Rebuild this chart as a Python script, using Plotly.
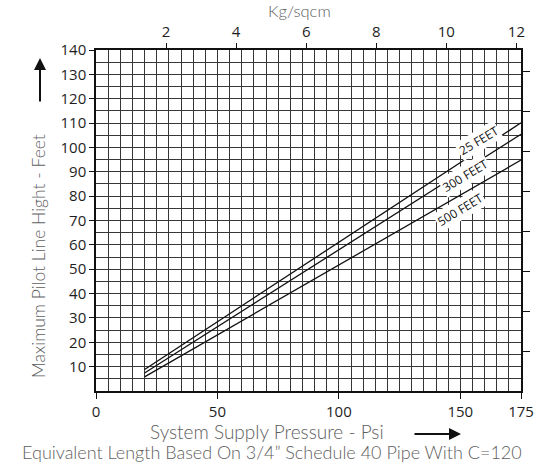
import plotly.graph_objects as go

# Data
pressure_psi = [20, 175]
h_25ft = [8.8, 110.1]
h_300ft = [7.4, 105.4]
h_500ft = [5.8, 94.8]

x_ticks = [0, 50, 100, 150, 175]
y_ticks = [10, 20, 30, 40, 50, 60, 70, 80, 90, 100, 110, 120, 130, 140]
kg_ticks = [2, 4, 6, 8, 10, 12]
m_ticks = [5, 10, 15, 20, 25, 30, 35, 40]

series = [("25 FEET", h_25ft), ("300 FEET", h_300ft), ("500 FEET", h_500ft)]

W, H = 539, 467
ML, MR, MT, MB = 96, 18, 50, 76
PW, PH = W - ML - MR, H - MT - MB

def px(xp):
    return (xp - ML) / PW

def py(yp):
    return (H - MB - yp) / PH

GRID = "#363636"
TXT = "#1e1e1e"
GRAY = "#5e5e5e"
NUMFONT = "Open Sans"
TITLEFONT = "Lato"

fig = go.Figure()
for name, vals in series:
    fig.add_trace(go.Scatter(x=pressure_psi, y=vals, mode="lines",
                             line=dict(color="#111111", width=1.3),
                             name=name, showlegend=False, hoverinfo="skip"))

# invisible traces to activate secondary axes
fig.add_trace(go.Scatter(x=[0], y=[0], xaxis="x2", yaxis="y", mode="markers",
                         marker=dict(opacity=0), showlegend=False, hoverinfo="skip"))
fig.add_trace(go.Scatter(x=[0], y=[0], xaxis="x", yaxis="y2", mode="markers",
                         marker=dict(opacity=0), showlegend=False, hoverinfo="skip"))

fig.update_layout(
    width=W, height=H,
    margin=dict(l=ML, r=MR, t=MT, b=MB, autoexpand=False),
    paper_bgcolor="white", plot_bgcolor="white",
    font=dict(family=NUMFONT, color=TXT, size=15),
    xaxis=dict(range=[0, 175], tickvals=x_ticks, ticks="outside", ticklen=6,
               tickcolor="#111", tickwidth=1,
               showgrid=True, gridcolor=GRID, gridwidth=1,
               minor=dict(dtick=5, tick0=0, showgrid=True, gridcolor=GRID, gridwidth=1),
               showline=True, linecolor="#111", linewidth=1.5, mirror=True,
               zeroline=False, tickfont=dict(size=15, color=TXT, family=NUMFONT)),
    yaxis=dict(range=[0, 140], tickvals=y_ticks, ticks="outside", ticklen=5,
               tickcolor="#111", tickwidth=1,
               showgrid=True, gridcolor=GRID, gridwidth=1,
               minor=dict(dtick=5, tick0=0, showgrid=True, gridcolor=GRID, gridwidth=1),
               showline=True, linecolor="#111", linewidth=1.5, mirror=True,
               zeroline=False, tickfont=dict(size=15, color=TXT, family=NUMFONT)),
    xaxis2=dict(range=[0, 12.13], overlaying="x", side="top", tickvals=kg_ticks,
                ticks="outside", ticklen=6, tickcolor="#111", showgrid=False,
                zeroline=False, showline=False,
                tickfont=dict(size=15, color=TXT, family=NUMFONT)),
    yaxis2=dict(range=[0, 140 / 3.2808], overlaying="y", side="right", tickvals=m_ticks,
                ticks="outside", ticklen=8, tickcolor="#111", showgrid=False,
                zeroline=False, showline=False, ticklabelstandoff=6,
                tickfont=dict(size=15, color=TXT, family=NUMFONT)),
)

ann = []
# curve labels
label_pos = [("25 FEET", 157.6, 102.9), ("300 FEET", 152.0, 88.6), ("500 FEET", 150.0, 74.5)]
for t, x, y in label_pos:
    ann.append(dict(x=x, y=y, xref="x", yref="y", text=t, showarrow=False,
                    textangle=-31, font=dict(size=12, color="#111", family=NUMFONT),
                    bgcolor="white", borderpad=1))

# titles
ann.append(dict(x=px(38), y=py(256), xref="paper", yref="paper",
                text="Maximum Pilot Line Hight - Feet", textangle=-90, showarrow=False,
                font=dict(size=17.5, color=GRAY, family=TITLEFONT, weight=300),
                xanchor="center", yanchor="middle"))
ann.append(dict(x=px(267), y=py(432), xref="paper", yref="paper",
                text="System Supply Pressure - Psi", showarrow=False,
                font=dict(size=19, color=GRAY, family=TITLEFONT, weight=300),
                xanchor="center", yanchor="middle"))
ann.append(dict(x=px(271.5), y=py(452), xref="paper", yref="paper",
                text="Equivalent Length Based On 3/4\u201d Schedule 40 Pipe With C=120",
                showarrow=False, font=dict(size=18, color=GRAY, family=TITLEFONT, weight=300),
                xanchor="center", yanchor="middle"))
ann.append(dict(x=px(299), y=py(10.5), xref="paper", yref="paper",
                text="Kg/sqcm", showarrow=False,
                font=dict(size=16.5, color=GRAY, family=TITLEFONT, weight=300),
                xanchor="center", yanchor="middle", borderpad=0))

# arrows
ann.append(dict(x=px(40), y=py(58), xref="paper", yref="paper", text="",
                showarrow=True, ax=0, ay=45, axref="pixel", ayref="pixel",
                arrowhead=2, arrowsize=1.2, arrowwidth=2, arrowcolor="#111", standoff=0))
ann.append(dict(x=px(461), y=py(434), xref="paper", yref="paper", text="",
                showarrow=True, ax=-48, ay=0, axref="pixel", ayref="pixel",
                arrowhead=2, arrowsize=1.2, arrowwidth=2, arrowcolor="#111", standoff=0))

fig.update_layout(annotations=ann)
fig.write_html("out.html", config={"displayModeBar": False},
               post_script="document.body.style.margin='0px';document.body.style.overflow='hidden';")
